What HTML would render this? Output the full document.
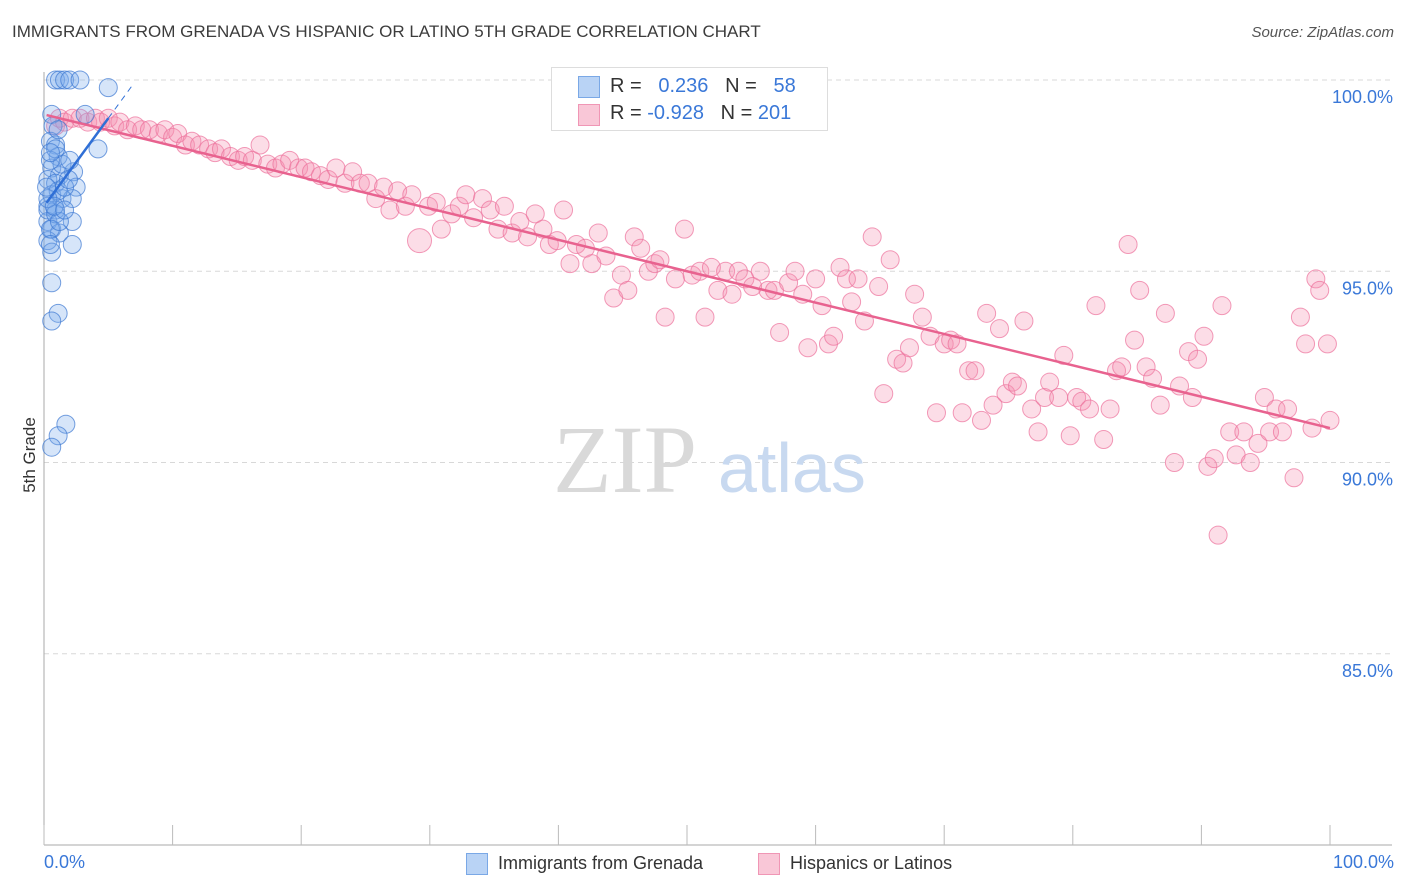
<!DOCTYPE html>
<html><head><meta charset="utf-8"><style>
body{margin:0;background:#fff;font-family:"Liberation Sans",sans-serif;}
#wrap{position:relative;width:1406px;height:892px;overflow:hidden;}
.t{position:absolute;white-space:nowrap;}
</style></head><body>
<div id="wrap">
<div class="t" style="left:12px;top:22px;font-size:17px;color:#3c3c3c;">IMMIGRANTS FROM GRENADA VS HISPANIC OR LATINO 5TH GRADE CORRELATION CHART</div>
<div class="t" style="right:12px;top:24px;font-size:15px;color:#555;font-style:italic;">Source: ZipAtlas.com</div>
<svg id="plot" width="1406" height="892" style="position:absolute;left:0;top:0"></svg>
</div>
<script>
const pinkX=[0.9,1.2,1.6,2.2,2.8,3.4,4.0,4.4,5.0,5.5,5.9,6.5,7.1,7.6,8.2,8.9,9.4,10.0,10.4,11.0,11.5,12.1,12.8,13.3,13.8,14.5,15.1,15.6,16.2,16.8,17.4,18.0,18.5,19.1,19.8,20.3,20.8,21.5,22.1,22.7,23.4,24.0,24.6,25.2,25.8,26.4,26.9,27.5,28.1,28.6,29.2,29.9,30.5,30.9,31.7,32.3,32.8,33.4,34.1,34.7,35.3,35.8,36.4,37.0,37.6,38.2,38.8,39.3,39.9,40.4,40.9,41.4,42.1,42.6,43.1,43.7,44.3,44.9,45.4,45.9,46.4,47.0,47.5,47.9,48.3,49.1,49.8,50.4,51.0,51.4,51.9,52.4,53.0,53.5,54.0,54.5,55.1,55.7,56.3,56.8,57.2,57.9,58.4,59.0,59.4,60.0,60.5,61.0,61.4,61.9,62.4,62.8,63.3,63.8,64.4,64.9,65.3,65.8,66.3,66.8,67.3,67.7,68.3,68.9,69.4,70.0,70.5,71.0,71.4,71.9,72.4,72.9,73.3,73.8,74.3,74.8,75.3,75.7,76.2,76.8,77.3,77.8,78.2,78.9,79.3,79.8,80.3,80.7,81.3,81.8,82.4,82.9,83.4,83.8,84.3,84.8,85.2,85.7,86.2,86.8,87.2,87.9,88.3,89.0,89.3,89.7,90.2,90.5,91.0,91.3,91.6,92.2,92.7,93.3,93.8,94.4,94.9,95.3,95.8,96.3,96.7,97.2,97.7,98.1,98.6,98.9,99.2,99.8,100.0];
const pinkY=[98.8,99.0,98.9,99.0,99.0,98.9,99.0,98.9,99.0,98.8,98.9,98.7,98.8,98.7,98.7,98.6,98.7,98.5,98.6,98.3,98.4,98.3,98.2,98.1,98.2,98.0,97.9,98.0,97.9,98.3,97.8,97.7,97.8,97.9,97.7,97.7,97.6,97.5,97.4,97.7,97.3,97.6,97.3,97.3,96.9,97.2,96.6,97.1,96.7,97.0,95.8,96.7,96.8,96.1,96.5,96.7,97.0,96.4,96.9,96.6,96.1,96.7,96.0,96.3,95.9,96.5,96.1,95.7,95.8,96.6,95.2,95.7,95.6,95.2,96.0,95.4,94.3,94.9,94.5,95.9,95.6,95.0,95.2,95.3,93.8,94.8,96.1,94.9,95.0,93.8,95.1,94.5,95.0,94.4,95.0,94.8,94.6,95.0,94.5,94.5,93.4,94.7,95.0,94.4,93.0,94.8,94.1,93.1,93.3,95.1,94.8,94.2,94.8,93.7,95.9,94.6,91.8,95.3,92.7,92.6,93.0,94.4,93.8,93.3,91.3,93.1,93.2,93.1,91.3,92.4,92.4,91.1,93.9,91.5,93.5,91.8,92.1,92.0,93.7,91.4,90.8,91.7,92.1,91.7,92.8,90.7,91.7,91.6,91.4,94.1,90.6,91.4,92.4,92.5,95.7,93.2,94.5,92.5,92.2,91.5,93.9,90.0,92.0,92.9,91.7,92.7,93.3,89.9,90.1,88.1,94.1,90.8,90.2,90.8,90.0,90.5,91.7,90.8,91.4,90.8,91.4,89.6,93.8,93.1,90.9,94.8,94.5,93.1,91.1];
const blueX=[0.9,1.2,1.6,2.0,2.8,5.0,0.6,0.7,4.2,0.5,0.9,1.1,0.6,1.2,0.3,0.9,2.3,2.5,0.6,1.4,0.3,2.2,0.9,0.3,2.2,0.6,1.2,0.3,2.2,0.6,0.6,1.1,0.6,1.7,1.1,0.6,0.3,0.9,0.5,1.1,1.4,0.5,0.9,0.3,1.2,0.5,0.8,1.6,1.9,0.2,1.1,0.5,1.6,2.0,3.2];
const blueY=[100,100,100,100,100,99.8,99.1,98.8,98.2,98.4,98.3,98.0,97.7,97.5,97.4,97.3,97.6,97.2,97.0,96.9,96.7,96.9,96.6,96.3,96.3,96.1,96.0,95.8,95.7,95.5,94.7,93.9,93.7,91.0,90.7,90.4,96.6,96.5,96.1,97.1,97.8,97.9,98.2,96.9,96.3,95.7,96.7,97.2,97.4,97.2,98.7,98.1,96.6,97.9,99.1];
const pinkTrend=[99.1,-0.082];
const blueTrend=[96.7,0.46];
const yTicks=[100,95,90,85];
const yTickLabels=["100.0%","95.0%","90.0%","85.0%"];
const xTicks=[0,10,20,30,40,50,60,70,80,90,100];

const svg=document.getElementById('plot');
const NS='http://www.w3.org/2000/svg';
const X=v=>44+v*12.86;
const Y=v=>845-(v-80)*38.25;
function mk(tag,attrs,parent){const e=document.createElementNS(NS,tag);for(const k in attrs)e.setAttribute(k,attrs[k]);(parent||svg).appendChild(e);return e;}

yTicks.forEach((t,i)=>{
  const g=mk('line',{x1:44,x2:1392,y1:Y(t),y2:Y(t),stroke:'#d8d8d8','stroke-dasharray':'5,4'});
  
  
  const tx=mk('text',{x:1393,y:Y(t)+23,'text-anchor':'end','font-size':18,fill:'#3a78d8','font-family':'Liberation Sans'});
  tx.textContent=yTickLabels[i];
  
  
});
const ax=mk('line',{x1:44,x2:44,y1:72,y2:845,stroke:'#aaa'});


const bx=mk('line',{x1:44,x2:1392,y1:845,y2:845,stroke:'#aaa'});


xTicks.forEach(t=>{
  const l=mk('line',{x1:X(t),x2:X(t),y1:825,y2:845,stroke:'#bbb'});
  
  
});
// watermark
const wm=mk('text',{x:553,y:492,'font-size':96,fill:'#d9d9d9','font-family':'Liberation Serif'});
wm.textContent='ZIP';


const wm2=mk('text',{x:718,y:492,'font-size':70,fill:'#c8d9f0','font-family':'Liberation Sans'});
wm2.textContent='atlas';



pinkX.forEach((v,i)=>{
  const c=mk('circle',{cx:X(v),cy:Y(pinkY[i]),r:(i==50?12:9),fill:'rgba(244,143,177,0.3)',stroke:'rgba(236,112,155,0.7)','stroke-width':1});
  
  
});
blueX.forEach((v,i)=>{
  const c=mk('circle',{cx:X(v),cy:Y(blueY[i]),r:9,fill:'rgba(120,170,235,0.3)',stroke:'rgba(60,120,210,0.7)','stroke-width':1});
  
  
});
const pl=mk('line',{x1:X(0.2),y1:Y(pinkTrend[0]+pinkTrend[1]*0.2),x2:X(100),y2:Y(pinkTrend[0]+pinkTrend[1]*100),stroke:'#e8628f','stroke-width':2.5});


const bl=mk('line',{x1:X(0.2),y1:Y(blueTrend[0]+blueTrend[1]*0.2),x2:X(5),y2:Y(blueTrend[0]+blueTrend[1]*5),stroke:'#2f6fd6','stroke-width':2.5});


const bd=mk('line',{x1:X(5),y1:Y(blueTrend[0]+blueTrend[1]*5),x2:X(7),y2:Y(blueTrend[0]+blueTrend[1]*7),stroke:'#2f6fd6','stroke-width':1,'stroke-dasharray':'6,5'});


</script>
<div class="t" style="left:-8px;top:445px;font-size:17px;color:#333;transform:rotate(-90deg);">5th Grade</div>
<div class="t" style="left:44px;top:852px;font-size:18px;color:#3a78d8;">0.0%</div>
<div class="t" style="right:12px;top:852px;font-size:18px;color:#3a78d8;">100.0%</div>
<div style="position:absolute;left:551px;top:67px;width:275px;height:62px;border:1px solid #ddd;background:#fff;">
 <div style="position:absolute;left:26px;top:8px;width:20px;height:20px;background:#b9d3f5;border:1px solid #7aa8e6;"></div>
 <div style="position:absolute;left:26px;top:36px;width:20px;height:20px;background:#f9c7d7;border:1px solid #f096b5;"></div>
 <div class="t" style="left:58px;top:7px;font-size:20px;color:#333;">R = <span style="color:#3a78d8">&nbsp;&nbsp;0.236</span>&nbsp;&nbsp;&nbsp;N = <span style="color:#3a78d8">&nbsp;&nbsp;58</span></div>
 <div class="t" style="left:58px;top:34px;font-size:20px;color:#333;">R = <span style="color:#3a78d8">-0.928</span>&nbsp;&nbsp;&nbsp;N = <span style="color:#3a78d8">201</span></div>
</div>
<div style="position:absolute;left:466px;top:853px;">
 <div style="position:absolute;left:0;top:0;width:20px;height:20px;background:#b9d3f5;border:1px solid #7aa8e6;"></div>
 <div class="t" style="left:32px;top:0;font-size:18px;color:#333;">Immigrants from Grenada</div>
</div>
<div style="position:absolute;left:758px;top:853px;">
 <div style="position:absolute;left:0;top:0;width:20px;height:20px;background:#f9c7d7;border:1px solid #f096b5;"></div>
 <div class="t" style="left:32px;top:0;font-size:18px;color:#333;">Hispanics or Latinos</div>
</div>
</body></html>
